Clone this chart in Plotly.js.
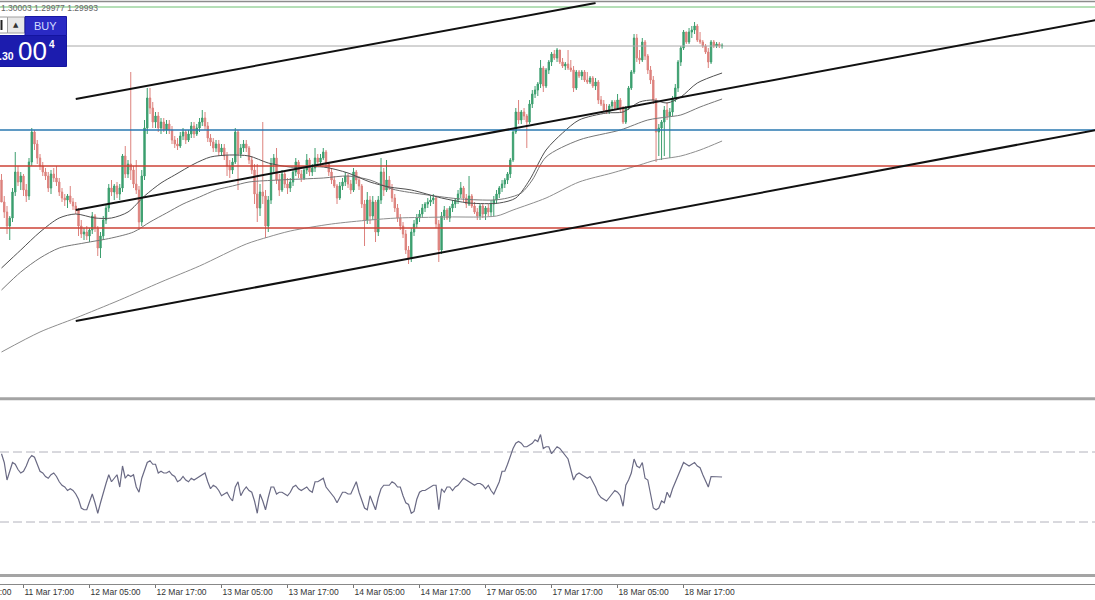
<!DOCTYPE html>
<html>
<head>
<meta charset="utf-8">
<script src="https://cdn.plot.ly/plotly-3.0.1.min.js"></script>
<style>html,body{margin:0;padding:0;background:#fff;}#chart{width:1095px;height:600px;}</style>
</head>
<body>
<div id="chart"></div>
<script>
// ---- GBPUSD M30 candles (index 0 = 11 Mar 13:00) ----
const open = [
1.2932,1.2921,1.2916,1.2909,1.2913,1.2926,1.2936,1.2931,1.2934,1.2927,
1.2924,1.2941,1.2956,1.2950,1.2943,1.2939,1.2936,1.2934,1.2928,1.2935,
1.2933,1.2931,1.2926,1.2923,1.2922,1.2924,1.2921,1.2919,1.2917,1.2909,
1.2905,1.2906,1.2904,1.2907,1.2914,1.2908,1.2898,1.2904,1.2912,1.2918,
1.2928,1.2926,1.2929,1.2925,1.2928,1.2944,1.2935,1.2940,1.2937,1.2930,
1.2927,1.2911,1.2934,1.2958,1.2973,1.2968,1.2961,1.2964,1.2958,1.2961,
1.2957,1.2960,1.2957,1.2952,1.2950,1.2949,1.2954,1.2956,1.2952,1.2955,
1.2959,1.2955,1.2958,1.2961,1.2963,1.2959,1.2953,1.2951,1.2948,1.2950,
1.2946,1.2948,1.2944,1.2939,1.2937,1.2941,1.2956,1.2945,1.2948,1.2950,
1.2948,1.2942,1.2937,1.2925,1.2918,1.2926,1.2924,1.2909,1.2922,1.2940,
1.2943,1.2932,1.2927,1.2935,1.2930,1.2928,1.2931,1.2936,1.2941,1.2935,
1.2933,1.2937,1.2942,1.2936,1.2938,1.2943,1.2941,1.2943,1.2946,1.2940,
1.2936,1.2932,1.2929,1.2923,1.2929,1.2931,1.2934,1.2930,1.2927,1.2936,
1.2932,1.2929,1.2920,1.2912,1.2922,1.2914,1.2921,1.2906,1.2922,1.2936,
1.2927,1.2932,1.2928,1.2923,1.2918,1.2913,1.2909,1.2905,1.2897,1.2893,
1.2906,1.2910,1.2913,1.2915,1.2918,1.2920,1.2921,1.2922,1.2923,1.2910,
1.2897,1.2914,1.2917,1.2913,1.2918,1.2920,1.2922,1.2925,1.2928,1.2923,
1.2920,1.2924,1.2919,1.2916,1.2914,1.2919,1.2915,1.2918,1.2916,1.2920,
1.2922,1.2925,1.2928,1.2930,1.2932,1.2935,1.2942,1.2956,1.2966,1.2962,
1.2966,1.2964,1.2961,1.2970,1.2975,1.2977,1.2980,1.2988,1.2979,1.2987,
1.2991,1.2995,1.2993,1.2997,1.2991,1.2989,1.2990,1.2988,1.2987,1.2978,
1.2986,1.2984,1.2986,1.2982,1.2981,1.2983,1.2979,1.2981,1.2972,1.2970,
1.2967,1.2966,1.2969,1.2971,1.2968,1.2972,1.2968,1.2961,1.2968,1.2978,
1.2986,1.3003,1.2993,1.2992,1.3001,1.2994,1.2987,1.2982,1.2972,1.2956,
1.2958,1.2961,1.2967,1.2964,1.2966,1.2973,1.2978,1.2991,1.2998,1.3006,
1.3001,1.3006,1.3007,1.3009,1.3002,1.3001,1.2999,1.2996,1.2991,1.3001,
1.2999,1.3000,1.2999];
const high = [
1.2935,1.2924,1.2919,1.2914,1.2928,1.2946,1.2939,1.2936,1.2935,1.2930,
1.2943,1.2958,1.2957,1.2952,1.2945,1.2941,1.2938,1.2936,1.2937,1.2938,
1.2939,1.2933,1.2928,1.2925,1.2925,1.2929,1.2923,1.2921,1.2918,1.2912,
1.2908,1.2909,1.2908,1.2916,1.2915,1.2909,1.2906,1.2914,1.2920,1.2930,
1.2932,1.2930,1.2931,1.2930,1.2945,1.2949,1.2942,1.2986,1.2939,1.2942,
1.2929,1.2937,1.2962,1.2978,1.2978,1.2971,1.2966,1.2966,1.2963,1.2963,
1.2962,1.2962,1.2959,1.2954,1.2953,1.2956,1.2958,1.2957,1.2957,1.2961,
1.2961,1.2960,1.2963,1.2967,1.2966,1.2961,1.2955,1.2953,1.2952,1.2952,
1.2950,1.2950,1.2946,1.2942,1.2943,1.2958,1.2957,1.2950,1.2952,1.2952,
1.2949,1.2944,1.2940,1.2940,1.2930,1.2961,1.2927,1.2924,1.2943,1.2945,
1.2948,1.2935,1.2937,1.2936,1.2933,1.2933,1.2937,1.2943,1.2942,1.2937,
1.2938,1.2945,1.2943,1.2940,1.2948,1.2945,1.2945,1.2948,1.2947,1.2941,
1.2938,1.2934,1.2930,1.2931,1.2933,1.2936,1.2935,1.2932,1.2938,1.2937,
1.2934,1.2930,1.2922,1.2926,1.2924,1.2924,1.2922,1.2924,1.2943,1.2938,
1.2942,1.2934,1.2930,1.2925,1.2920,1.2915,1.2911,1.2907,1.2899,1.2908,
1.2912,1.2915,1.2917,1.2920,1.2921,1.2923,1.2924,1.2925,1.2924,1.2912,
1.2916,1.2919,1.2918,1.2919,1.2922,1.2923,1.2927,1.2931,1.2929,1.2925,
1.2934,1.2925,1.2921,1.2918,1.2920,1.2920,1.2919,1.2920,1.2922,1.2924,
1.2927,1.2929,1.2932,1.2933,1.2936,1.2943,1.2958,1.2968,1.2972,1.2967,
1.2968,1.2965,1.2972,1.2977,1.2979,1.2981,1.2992,1.2989,1.2988,1.2992,
1.2996,1.2997,1.2998,1.2997,1.2993,1.2991,1.2997,1.2992,1.2989,1.2987,
1.2987,1.2987,1.2987,1.2986,1.2984,1.2984,1.2983,1.2982,1.2974,1.2972,
1.2970,1.2970,1.2972,1.2972,1.2975,1.2973,1.2969,1.2969,1.2979,1.2987,
1.3005,1.3005,1.2997,1.3003,1.3002,1.2995,1.2989,1.2984,1.2973,1.2960,
1.2962,1.2969,1.2971,1.2968,1.2974,1.2980,1.2992,1.2999,1.3007,1.3006,
1.3008,1.3009,1.3011,1.3010,1.3006,1.3002,1.3000,1.2998,1.3002,1.3002,
1.3001,1.3001,1.30003];
const low = [
1.2928,1.2913,1.2905,1.2902,1.2911,1.2924,1.2929,1.2927,1.2924,1.2921,
1.2922,1.2939,1.2947,1.2940,1.2937,1.2934,1.2932,1.2926,1.2925,1.2931,
1.2929,1.2924,1.2921,1.2919,1.2918,1.2920,1.2917,1.2915,1.2904,1.2903,
1.2902,1.2902,1.2901,1.2905,1.2906,1.2894,1.2893,1.2902,1.2910,1.2916,
1.2924,1.2922,1.2923,1.2922,1.2926,1.2933,1.2933,1.2932,1.2928,1.2925,
1.2907,1.2909,1.2932,1.2955,1.2965,1.2958,1.2958,1.2956,1.2955,1.2956,
1.2955,1.2955,1.2950,1.2948,1.2947,1.2948,1.2952,1.2950,1.2951,1.2953,
1.2953,1.2954,1.2956,1.2959,1.2957,1.2951,1.2949,1.2946,1.2946,1.2944,
1.2944,1.2942,1.2934,1.2933,1.2935,1.2940,1.2927,1.2943,1.2946,1.2946,
1.2940,1.2935,1.2920,1.2911,1.2914,1.2920,1.2903,1.2906,1.2920,1.2936,
1.2930,1.2924,1.2926,1.2928,1.2925,1.2926,1.2929,1.2934,1.2933,1.2931,
1.2932,1.2935,1.2934,1.2934,1.2936,1.2939,1.2939,1.2942,1.2938,1.2934,
1.2930,1.2928,1.2920,1.2922,1.2927,1.2929,1.2928,1.2925,1.2926,1.2930,
1.2927,1.2918,1.2899,1.2910,1.2910,1.2912,1.2901,1.2904,1.2920,1.2924,
1.2926,1.2927,1.2921,1.2916,1.2911,1.2907,1.2903,1.2895,1.2890,1.2891,
1.2904,1.2908,1.2911,1.2913,1.2916,1.2918,1.2919,1.2920,1.2908,1.2891,
1.2895,1.2912,1.2912,1.2911,1.2916,1.2918,1.2920,1.2923,1.2921,1.2918,
1.2919,1.2918,1.2915,1.2912,1.2912,1.2913,1.2912,1.2914,1.2914,1.2914,
1.2920,1.2923,1.2926,1.2928,1.2930,1.2933,1.2941,1.2955,1.2960,1.2960,
1.2962,1.2948,1.2960,1.2968,1.2973,1.2974,1.2978,1.2976,1.2978,1.2985,
1.2989,1.2992,1.2991,1.2990,1.2988,1.2987,1.2987,1.2986,1.2976,1.2977,
1.2983,1.2982,1.2981,1.2980,1.2980,1.2978,1.2977,1.2970,1.2969,1.2966,
1.2965,1.2965,1.2967,1.2967,1.2967,1.2966,1.2960,1.2960,1.2967,1.2977,
1.2985,1.2991,1.2990,1.2991,1.2992,1.2985,1.2980,1.2970,1.2941,1.2944,
1.2942,1.2944,1.2962,1.2943,1.2964,1.2971,1.2976,1.2989,1.2997,1.3000,
1.3000,1.3003,1.3005,1.3001,1.3000,1.2998,1.2995,1.2988,1.2990,1.2998,
1.2998,1.2998,1.29977];
const close = [
1.2921,1.2916,1.2909,1.2913,1.2926,1.2936,1.2931,1.2934,1.2927,1.2924,
1.2941,1.2956,1.2950,1.2943,1.2939,1.2936,1.2934,1.2928,1.2935,1.2933,
1.2931,1.2926,1.2923,1.2922,1.2924,1.2921,1.2919,1.2917,1.2909,1.2905,
1.2906,1.2904,1.2907,1.2914,1.2908,1.2898,1.2904,1.2912,1.2918,1.2928,
1.2926,1.2929,1.2925,1.2928,1.2944,1.2935,1.2940,1.2937,1.2930,1.2927,
1.2911,1.2934,1.2958,1.2973,1.2968,1.2961,1.2964,1.2958,1.2961,1.2957,
1.2960,1.2957,1.2952,1.2950,1.2949,1.2954,1.2956,1.2952,1.2955,1.2959,
1.2955,1.2958,1.2961,1.2963,1.2959,1.2953,1.2951,1.2948,1.2950,1.2946,
1.2948,1.2944,1.2939,1.2937,1.2941,1.2956,1.2945,1.2948,1.2950,1.2948,
1.2942,1.2937,1.2925,1.2918,1.2926,1.2924,1.2909,1.2922,1.2940,1.2943,
1.2932,1.2927,1.2935,1.2930,1.2928,1.2931,1.2936,1.2941,1.2935,1.2933,
1.2937,1.2942,1.2936,1.2938,1.2943,1.2941,1.2943,1.2946,1.2940,1.2936,
1.2932,1.2929,1.2923,1.2929,1.2931,1.2934,1.2930,1.2927,1.2936,1.2932,
1.2929,1.2920,1.2912,1.2922,1.2914,1.2921,1.2906,1.2922,1.2936,1.2927,
1.2932,1.2928,1.2923,1.2918,1.2913,1.2909,1.2905,1.2897,1.2893,1.2906,
1.2910,1.2913,1.2915,1.2918,1.2920,1.2921,1.2922,1.2923,1.2910,1.2897,
1.2914,1.2917,1.2913,1.2918,1.2920,1.2922,1.2925,1.2928,1.2923,1.2920,
1.2924,1.2919,1.2916,1.2914,1.2919,1.2915,1.2918,1.2916,1.2920,1.2922,
1.2925,1.2928,1.2930,1.2932,1.2935,1.2942,1.2956,1.2966,1.2962,1.2966,
1.2964,1.2961,1.2970,1.2975,1.2977,1.2980,1.2988,1.2979,1.2987,1.2991,
1.2995,1.2993,1.2997,1.2991,1.2989,1.2990,1.2988,1.2987,1.2978,1.2986,
1.2984,1.2986,1.2982,1.2981,1.2983,1.2979,1.2981,1.2972,1.2970,1.2967,
1.2966,1.2969,1.2971,1.2968,1.2972,1.2968,1.2961,1.2968,1.2978,1.2986,
1.3003,1.2993,1.2992,1.3001,1.2994,1.2987,1.2982,1.2972,1.2956,1.2958,
1.2961,1.2967,1.2964,1.2966,1.2973,1.2978,1.2991,1.2998,1.3006,1.3001,
1.3006,1.3007,1.3009,1.3002,1.3001,1.2999,1.2996,1.2991,1.3001,1.2999,
1.3000,1.2999,1.29993];

// RSI per candle
const rsi = [
69,64,54,59,64,63,60,58,59,62,
66,68,67,63,59,58,56,55,57,58,
56,53,51,50,48,49,48,46,43,38,
37,37,41,46,41,35,41,47,52,57,
53,55,57,50,62,55,57,56,57,50,
47,55,60,64,65,63,63,58,59,58,
58,59,57,56,53,54,56,54,53,55,
54,55,56,57,58,53,49,51,50,48,
45,46,47,44,42,50,53,45,48,50,
48,47,42,35,46,42,37,44,50,50,
46,47,47,46,45,47,50,51,49,48,
49,50,48,47,53,53,54,55,50,48,
46,44,41,44,47,47,46,46,50,53,
47,42,38,37,45,41,37,44,49,51,
51,51,53,52,50,50,45,41,40,35,
36,43,47,48,48,49,50,51,51,37,
49,47,50,50,48,50,51,53,55,54,
53,52,51,52,52,51,49,51,48,46,
50,53,59,59,63,68,72,75,76,75,
73,73,74,75,77,76,80,72,73,73,
69,71,73,72,70,68,66,60,54,57,
58,57,56,55,56,53,50,46,44,43,
42,44,46,48,47,45,39,51,54,58,
66,62,61,64,55,54,46,38,37,38,
42,41,47,44,49,53,57,61,64,63,
62,63,64,62,61,57,53,50,56,56,
56,56,55.7];

// Moving averages (read at candle indexes)
const maFastIdx = [0,7,14,21,27,34,40,46,52,58,63,70,76,83,90,97,105,117,126,134,141,149,160,170,181,187,192,198,204,210,220,226,232,237,242,247,253,262];
const maFast = [1.2888,1.2897,1.2906,1.2913,1.2915,1.2913,1.2913,1.2916,1.2924,1.29305,1.29345,1.2940,1.29435,1.29445,1.2944,1.29405,1.29385,1.29385,1.29355,1.2931,1.29285,1.2927,1.2923,1.29205,1.29205,1.2923,1.2932,1.2947,1.29555,1.2962,1.29655,1.2966,1.2971,1.2972,1.29705,1.29735,1.29805,1.29855];
const maMidIdx = [0,7,14,21,30,40,48,54,60,66,72,78,84,90,101,117,126,134,142,155,167,179,184,189,193,198,210,225,235,242,247,254,262];
const maMid = [1.2877,1.2886,1.2893,1.2898,1.29005,1.2903,1.2906,1.2911,1.29155,1.2920,1.29235,1.2927,1.2929,1.2931,1.2932,1.2933,1.2934,1.2932,1.29275,1.29245,1.29225,1.2922,1.2923,1.29255,1.2932,1.29435,1.2952,1.2957,1.2962,1.29635,1.29645,1.29685,1.29725];
const maSlowIdx = [0,14,27,43,58,72,89,97,105,120,134,144,162,180,186,198,210,222,232,238,247,254,262];
const maSlow = [1.2846,1.2856,1.2863,1.2872,1.2881,1.2889,1.2900,1.29035,1.29065,1.2910,1.2912,1.2913,1.29135,1.2914,1.2917,1.2923,1.2931,1.29355,1.29395,1.2942,1.2944,1.2947,1.29515];

// Horizontal levels and channel lines
const levelPrices = [1.30185, 1.29990, 1.29570, 1.29390, 1.29080];
const trendX0 = [27, 27, 27];
const trendY0 = [1.29725, 1.29170, 1.28615];
const trendX1 = [216, 398, 398];
const trendY1 = [1.30205, 1.30120, 1.29570];
const rsiLevels = [70, 30];

// Time axis
const tickIdx = [8, 32, 56, 80, 104, 128, 152, 176, 200, 224, 248];
const tickLabels = ['11 Mar 17:00','12 Mar 05:00','12 Mar 17:00','13 Mar 05:00','13 Mar 17:00','14 Mar 05:00','14 Mar 17:00','17 Mar 05:00','17 Mar 17:00','18 Mar 05:00','18 Mar 17:00'];
const hiddenLabel = '11 Mar 05:00';
const quoteText = '1.30003 1.29977 1.29993';

// ---- styles ----
const W = 1095, H = 600;
const px = v => v / W;
const py = v => 1 - v / H;
const levelColors = ['#6cc070', '#a8a8a8', '#2a78b0', '#cc4236', '#cc4236'];
const levelWidths = [1.2, 1, 1.5, 1.5, 1.5];
const idx = close.map((_, i) => i);

const traces = [
  {type:'candlestick', x: idx, open, high, low, close, xaxis:'x', yaxis:'y',
   increasing:{line:{color:'#3c9f6f', width:1}, fillcolor:'#3c9f6f'},
   decreasing:{line:{color:'#dd827d', width:1}, fillcolor:'#dd827d'},
   hoverinfo:'skip', showlegend:false},
  {type:'scatter', mode:'lines', x: maSlowIdx, y: maSlow, xaxis:'x', yaxis:'y',
   line:{color:'#8e8e8e', width:1, shape:'spline', smoothing:0.8}, hoverinfo:'skip'},
  {type:'scatter', mode:'lines', x: maMidIdx, y: maMid, xaxis:'x', yaxis:'y',
   line:{color:'#777777', width:1, shape:'spline', smoothing:0.8}, hoverinfo:'skip'},
  {type:'scatter', mode:'lines', x: maFastIdx, y: maFast, xaxis:'x', yaxis:'y',
   line:{color:'#505050', width:1, shape:'spline', smoothing:0.8}, hoverinfo:'skip'},
  {type:'scatter', mode:'lines', x: idx, y: rsi, xaxis:'x', yaxis:'y2',
   line:{color:'#6a6a84', width:1.2}, hoverinfo:'skip'}
];

const shapes = [];
levelPrices.forEach((p, k) => shapes.push({type:'line', xref:'paper', yref:'y', x0:0, x1:1, y0:p, y1:p,
  line:{color:levelColors[k], width:levelWidths[k]}, layer:'above'}));
trendX0.forEach((x0, k) => shapes.push({type:'line', xref:'x', yref:'y', x0:x0, y0:trendY0[k], x1:trendX1[k], y1:trendY1[k],
  line:{color:'#111', width:2}, layer:'above'}));
rsiLevels.forEach(v => shapes.push({type:'line', xref:'paper', yref:'y2', x0:0, x1:1, y0:v, y1:v,
  line:{color:'#b2b2bc', width:1, dash:'9px,4px'}, layer:'below'}));
// frame / separators
shapes.push({type:'line', xref:'paper', yref:'paper', x0:0, x1:1, y0:py(1.6), y1:py(1.6), line:{color:'#8c8c8c', width:1.5}});
shapes.push({type:'rect', xref:'paper', yref:'paper', x0:0, x1:1, y0:py(400.3), y1:py(397.3), fillcolor:'#a4a4a4', line:{width:0}});
shapes.push({type:'rect', xref:'paper', yref:'paper', x0:0, x1:1, y0:py(577), y1:py(574), fillcolor:'#a4a4a4', line:{width:0}});
// trade panel
shapes.push({type:'rect', xref:'paper', yref:'paper', x0:px(-1), x1:px(7.5), y0:py(33), y1:py(17), fillcolor:'#ffffff', line:{color:'#9a9a9a', width:1}, layer:'above'});
shapes.push({type:'rect', xref:'paper', yref:'paper', x0:px(0.5), x1:px(2.5), y0:py(30), y1:py(20), fillcolor:'#222', line:{width:0}, layer:'above'});
shapes.push({type:'rect', xref:'paper', yref:'paper', x0:px(7.5), x1:px(24.5), y0:py(33), y1:py(17), fillcolor:'#e8e8e8', line:{color:'#a0a0a0', width:1}, layer:'above'});
shapes.push({type:'rect', xref:'paper', yref:'paper', x0:px(25), x1:px(66.5), y0:py(35.5), y1:py(16.5), fillcolor:'#2a2ac4', line:{color:'#1818a4', width:1}, layer:'above'});
shapes.push({type:'rect', xref:'paper', yref:'paper', x0:px(-1), x1:px(66.5), y0:py(66.5), y1:py(35.5), fillcolor:'#1c1cae', line:{color:'#1414a0', width:1}, layer:'above'});

const annotations = [
  {xref:'paper', yref:'paper', x:px(-1), y:py(8), xanchor:'left', yanchor:'middle', showarrow:false,
   text:quoteText, font:{family:'Liberation Sans, Arial, sans-serif', size:8.5, color:'#666'}},
  {xref:'paper', yref:'paper', x:px(16), y:py(25), xanchor:'center', yanchor:'middle', showarrow:false,
   text:'▲', font:{family:'DejaVu Sans', size:7, color:'#333'}},
  {xref:'paper', yref:'paper', x:px(45.7), y:py(26), xanchor:'center', yanchor:'middle', showarrow:false,
   text:'BUY', font:{family:'Liberation Sans, Arial, sans-serif', size:11, color:'#d4dcff'}},
  {xref:'paper', yref:'paper', x:px(-2), y:py(56), xanchor:'left', yanchor:'middle', showarrow:false, borderpad:0,
   text:'<b>.30</b>', font:{family:'Liberation Sans, Arial, sans-serif', size:10.5, color:'#ffffff'}},
  {xref:'paper', yref:'paper', x:px(32), y:py(51), xanchor:'center', yanchor:'middle', showarrow:false, borderpad:0,
   text:'00', font:{family:'Liberation Sans Narrow, Liberation Sans, Arial, sans-serif', size:26, color:'#ffffff'}},
  {xref:'paper', yref:'paper', x:px(52), y:py(44.5), xanchor:'center', yanchor:'middle', showarrow:false, borderpad:0,
   text:'<b>4</b>', font:{family:'Liberation Sans, Arial, sans-serif', size:10, color:'#ffffff'}},
  {xref:'paper', yref:'paper', x:px(-40.5), y:py(591.5), xanchor:'left', yanchor:'middle', showarrow:false,
   text:hiddenLabel, font:{family:'Liberation Sans, Arial, sans-serif', size:8.5, color:'#333'}}
];

const layout = {
  width: W, height: H,
  margin:{l:0, r:0, t:0, b:0, pad:0},
  paper_bgcolor:'#ffffff', plot_bgcolor:'#ffffff',
  showlegend:false,
  xaxis:{domain:[0,1], range:[-0.545, 397.6], anchor:'free', position: 1 - 583.5/H,
    showgrid:false, zeroline:false, showline:true, linecolor:'#888', linewidth:1,
    ticks:'outside', ticklen:3, tickcolor:'#777', tickwidth:1,
    tickmode:'array', tickvals: tickIdx, ticktext: tickLabels,
    ticklabelposition:'outside right',
    tickfont:{family:'Liberation Sans, Arial, sans-serif', size:8.5, color:'#333'},
    rangeslider:{visible:false}, fixedrange:true},
  yaxis:{domain:[1 - 397/H, 1], range:[1.28235, 1.3022], visible:false, fixedrange:true},
  yaxis2:{domain:[1 - 574.5/H, 1 - 399.5/H], range:[0, 100], visible:false, fixedrange:true},
  shapes, annotations
};

Plotly.newPlot('chart', traces, layout, {displayModeBar:false, staticPlot:true});
</script>
</body>
</html>
